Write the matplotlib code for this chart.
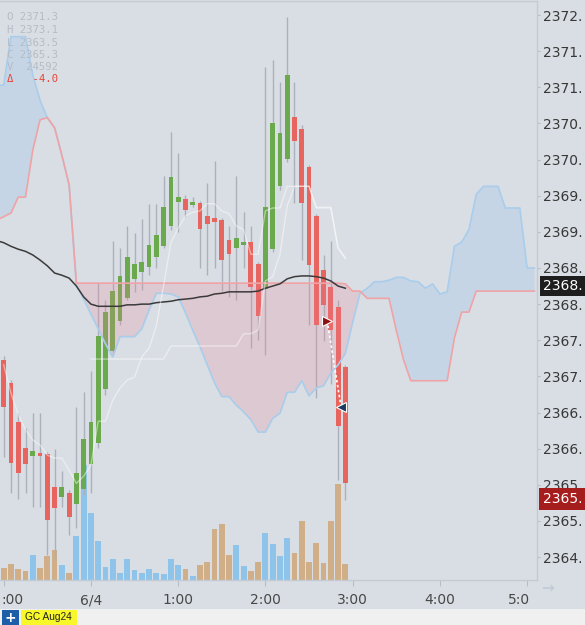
import numpy as np
import matplotlib
matplotlib.use("Agg")
import matplotlib.pyplot as plt
from matplotlib.patches import Rectangle
from matplotlib.transforms import blended_transform_factory, ScaledTranslation

# ---------------- data (5-minute bars, GC Aug24) ----------------
opens = [2367.23, 2366.91, 2366.37, 2366.01, 2365.90, 2365.94, 2365.93, 2365.47, 2365.33, 2365.39,
         2365.23, 2365.44, 2365.79, 2366.08, 2366.83, 2367.35, 2367.77, 2368.08, 2368.35, 2368.44,
         2368.51, 2368.65, 2368.80, 2369.08, 2369.41, 2369.45, 2369.37, 2369.40, 2369.22, 2369.19,
         2369.16, 2368.89, 2368.78, 2368.82, 2368.86, 2368.55, 2368.21, 2368.76, 2369.63, 2370.01,
         2370.59, 2370.42, 2369.90, 2369.22, 2368.47, 2368.24, 2367.96, 2367.13]
highs = [2367.28, 2366.95, 2366.49, 2366.29, 2366.49, 2366.49, 2365.95, 2365.99, 2365.69, 2365.43,
         2366.58, 2366.78, 2367.07, 2368.29, 2368.06, 2368.87, 2368.78, 2369.08, 2368.98, 2369.18,
         2369.39, 2369.39, 2369.77, 2370.38, 2370.09, 2369.51, 2369.48, 2369.43, 2369.68, 2369.98,
         2369.19, 2369.08, 2369.77, 2369.27, 2369.08, 2368.58, 2371.28, 2371.38, 2371.07, 2371.97,
         2371.07, 2370.48, 2369.92, 2369.25, 2368.68, 2368.87, 2368.06, 2367.16]
lows = [2365.88, 2365.39, 2365.30, 2365.39, 2365.19, 2365.19, 2364.53, 2364.46, 2365.19, 2364.80,
        2364.90, 2365.36, 2365.39, 2366.01, 2366.74, 2367.30, 2367.71, 2368.06, 2368.17, 2368.20,
        2368.40, 2368.50, 2368.78, 2369.03, 2369.00, 2369.21, 2369.34, 2368.50, 2368.40, 2368.50,
        2368.18, 2368.10, 2368.06, 2368.50, 2367.39, 2367.50, 2367.30, 2368.72, 2369.58, 2369.97,
        2369.40, 2368.61, 2367.71, 2366.70, 2367.49, 2366.89, 2365.57, 2365.29]
closes = [2366.58, 2365.80, 2365.66, 2365.79, 2365.97, 2365.90, 2365.01, 2365.18, 2365.47, 2365.05,
          2365.66, 2366.13, 2366.37, 2367.56, 2367.89, 2368.18, 2368.39, 2368.65, 2368.55, 2368.58,
          2368.82, 2368.96, 2369.34, 2369.76, 2369.48, 2369.30, 2369.41, 2369.04, 2369.11, 2369.14,
          2368.61, 2368.69, 2368.91, 2368.86, 2368.24, 2367.84, 2369.34, 2370.51, 2370.37, 2371.17,
          2370.26, 2369.40, 2368.54, 2367.71, 2367.99, 2367.64, 2366.31, 2365.52]
volumes = [246, 320, 220, 180, 500, 240, 480, 600, 300, 140,
           880, 2300, 1340, 780, 260, 420, 140, 420, 200, 140,
           220, 140, 120, 420, 300, 220, 80, 300, 360, 1020,
           1120, 500, 700, 280, 180, 360, 940, 720, 480, 840,
           540, 1180, 360, 740, 340, 1180, 1920, 320]

# moving average, starting one bar before the first candle
ma_start = -1
ma_line = [2368.88, 2368.85, 2368.80, 2368.76, 2368.73, 2368.68, 2368.61, 2368.53, 2368.43, 2368.40,
           2368.36, 2368.25, 2368.10, 2368.00, 2367.97, 2367.97, 2367.97, 2367.97, 2367.99, 2367.99,
           2368.00, 2368.00, 2368.02, 2368.03, 2368.04, 2368.06, 2368.07, 2368.08, 2368.10, 2368.11,
           2368.14, 2368.15, 2368.17, 2368.17, 2368.17, 2368.17, 2368.18, 2368.22, 2368.25, 2368.28,
           2368.35, 2368.38, 2368.39, 2368.39, 2368.38, 2368.36, 2368.32, 2368.25, 2368.22]

tenkan = [2367.16, 2366.77, 2366.47, 2366.26, 2366.12, 2366.05, 2365.91, 2365.87, 2365.87, 2365.70,
          2365.52, 2365.62, 2365.77, 2366.38, 2366.38, 2366.67, 2366.84, 2366.95, 2366.99, 2367.27,
          2367.39, 2367.70, 2368.26, 2368.85, 2369.05, 2369.22, 2369.27, 2369.29, 2369.39, 2369.39,
          2369.29, 2369.25, 2369.08, 2369.03, 2368.69, 2368.69, 2369.29, 2369.33, 2369.33, 2369.63,
          2369.63, 2369.63, 2369.63, 2369.33, 2369.33, 2369.33, 2368.78, 2368.64]
kijun = [None, None, None, None, None, None, None, None, None, None,
         None, None, 2367.24, 2367.24, 2367.24, 2367.24, 2367.24, 2367.24, 2367.24, 2367.24,
         2367.24, 2367.24, 2367.24, 2367.42, 2367.42, 2367.42, 2367.42, 2367.42, 2367.42, 2367.42,
         2367.42, 2367.42, 2367.42, 2367.59, 2367.59, 2367.64, 2368.32, 2368.38, 2368.69, 2369.36,
         2369.63, 2369.63, 2369.63, 2369.34, 2369.34, 2369.34, 2368.77, 2368.63]

# Ichimoku cloud, projected forward; first value is one bar before the first candle
cloud_start = -1
span_a = [2369.16, 2369.21, 2369.26, 2369.48, 2369.48, 2370.13, 2370.55, 2370.58, 2370.44, 2370.06,
          2369.65, 2368.29, 2368.29, 2368.29, 2368.29, 2368.29, 2368.29, 2368.29, 2368.29, 2368.29,
          2368.29, 2368.29, 2368.29, 2368.29, 2368.29, 2368.29, 2368.29, 2368.29, 2368.29, 2368.29,
          2368.29, 2368.29, 2368.29, 2368.29, 2368.29, 2368.29, 2368.29, 2368.29, 2368.29, 2368.29,
          2368.29, 2368.29, 2368.29, 2368.29, 2368.29, 2368.29, 2368.29, 2368.29, 2368.28, 2368.18,
          2368.18, 2368.08, 2368.08, 2368.08, 2368.08, 2367.64, 2367.23, 2366.94, 2366.94, 2366.94,
          2366.94, 2366.94, 2366.94, 2367.53, 2367.89, 2367.89, 2368.18, 2368.18, 2368.18, 2368.18,
          2368.18, 2368.18, 2368.18, 2368.18, 2368.18]
span_b = [2371.03, 2371.03, 2371.70, 2371.70, 2371.70, 2371.17, 2370.82, 2370.58, 2370.44, 2370.06,
          2369.65, 2368.26, 2368.07, 2367.86, 2367.66, 2367.45, 2367.27, 2367.55, 2367.55, 2367.55,
          2367.66, 2367.92, 2368.15, 2368.15, 2368.14, 2368.10, 2367.88, 2367.64, 2367.41, 2367.16,
          2366.91, 2366.72, 2366.72, 2366.60, 2366.51, 2366.40, 2366.23, 2366.23, 2366.42, 2366.49,
          2366.78, 2366.78, 2366.94, 2366.73, 2366.84, 2366.87, 2367.05, 2367.16, 2367.32, 2367.75,
          2368.15, 2368.22, 2368.31, 2368.31, 2368.33, 2368.37, 2368.37, 2368.32, 2368.31, 2368.22,
          2368.28, 2368.14, 2368.17, 2368.80, 2368.86, 2369.03, 2369.52, 2369.63, 2369.63, 2369.63,
          2369.33, 2369.33, 2369.33, 2368.50, 2368.50]

# trade markers (bar position, price)
entry_bar, entry_price = 44.5, 2367.77
exit_bar, exit_price = 46.4, 2366.58

# time axis: tick positions (bar index) and the part of each label that is visible
time_ticks = [0, 12, 24, 36, 48, 60, 72]
time_labels = [":00", "6/4", "1:00", "2:00", "3:00", "4:00", "5:0"]
# price axis: ticks and their (truncated) labels as displayed
price_ticks = [2364.5, 2365.0, 2365.5, 2366.0, 2366.5, 2367.0, 2367.5, 2368.0,
               2368.5, 2369.0, 2369.5, 2370.0, 2370.5, 2371.0, 2371.5, 2372.0]
price_labels = ["2364.", "2365.", "2365.", "2366.", "2366.", "2367.", "2367.", "2368.",
                "2368.", "2369.", "2369.", "2370.", "2370.", "2371.", "2371.", "2372."]
marker_price_black = 2368.25
marker_label_black = "2368."
last_price = 2365.3
last_label = "2365."

info_lines = ["O 2371.3", "H 2373.1", "L 2363.5", "C 2365.3", "V  24592"]
delta_line = "\u0394   -4.0"
symbol_label = "GC Aug24"

# ---------------- styling ----------------
BG = "#d9dee4"
UP = "#6aaa4c"
DN = "#e8645f"
WICK = "#aab1ba"
VOL_UP = "#8ec3ea"
VOL_DN = "#cfae88"
FS = 10

W, H = 585, 625
fig = plt.figure(figsize=(W / 100, H / 100), dpi=100)
fig.patch.set_facecolor(BG)

ax_left, ax_right, ax_top, ax_bottom = 0, 537, 1, 580
pos = [ax_left / W, 1 - ax_bottom / H, (ax_right - ax_left) / W, (ax_bottom - ax_top) / H]

x_lo, x_hi = -0.509, 73.36
y_lo, y_hi = 2364.183, 2372.194

# volume axes (behind)
ax_vol = fig.add_axes(pos)
ax_vol.set_facecolor(BG)
ax_vol.set_zorder(1)
idx = np.arange(len(opens))
o = np.array(opens); h = np.array(highs); l = np.array(lows); c = np.array(closes)
up = c >= o
ax_vol.bar(idx, volumes, width=0.8, color=np.where(up, VOL_UP, VOL_DN), linewidth=0)
ax_vol.set_xlim(x_lo, x_hi)
ax_vol.set_ylim(0, 11580)
ax_vol.set_xticks([]); ax_vol.set_yticks([])
for s in ax_vol.spines.values():
    s.set_visible(False)

# main price axes
ax = fig.add_axes(pos)
ax.set_zorder(2)
ax.set_facecolor("none")
ax.set_xlim(x_lo, x_hi)
ax.set_ylim(y_lo, y_hi)

# candles
ax.vlines(idx, l, h, color=WICK, lw=1.0, zorder=1)
body = np.maximum(np.abs(c - o), 0.025)
ax.bar(idx, body, bottom=np.minimum(o, c), width=0.66,
       color=np.where(up, UP, DN), linewidth=0, zorder=2)

# cloud
xc = np.arange(cloud_start, cloud_start + len(span_a))
a = np.array(span_a); b = np.array(span_b)
ax.fill_between(xc, a, b, where=a >= b, interpolate=True,
                color=(238 / 255, 130 / 255, 150 / 255), alpha=0.22, lw=0, zorder=3)
ax.fill_between(xc, a, b, where=b > a, interpolate=True,
                color=(140 / 255, 190 / 255, 235 / 255), alpha=0.25, lw=0, zorder=3)
ax.plot(xc, b, color="#a9cdeb", lw=1.2, zorder=4)
ax.plot(xc, a, color="#efa3a6", lw=1.2, zorder=4)

# moving average
xm = np.arange(ma_start, ma_start + len(ma_line))
ax.plot(xm, ma_line, color="#3a3a3a", lw=1.1, zorder=5)

# tenkan / kijun
ax.plot(idx, tenkan, color="white", alpha=0.45, lw=1.0, zorder=5)
kj = np.array([np.nan if v is None else v for v in kijun], dtype=float)
ax.plot(idx, kj, color="white", alpha=0.45, lw=1.0, zorder=5)

# trade markers
ax.plot([entry_bar, exit_bar], [entry_price, exit_price], color="white", ls=(0, (1.5, 1.5)), lw=1.2, zorder=6)
ax.plot([entry_bar], [entry_price], marker=">", ms=7, color="#8c1010", mec="white", mew=0.8, zorder=7)
ax.plot([exit_bar], [exit_price], marker="<", ms=7, color="#1b3a5c", mec="white", mew=0.8, zorder=7)

# axes styling
ax.spines["left"].set_visible(False)
for side in ["top", "right", "bottom"]:
    ax.spines[side].set_color("#c2cad3")
    ax.spines[side].set_linewidth(1.0)

ax.yaxis.tick_right()
ax.set_yticks(price_ticks)
ax.set_yticklabels(price_labels)
ax.tick_params(axis="y", length=2, width=0.8, color="#b5bdc7", labelsize=FS,
               labelcolor="#383838", pad=2.5)
ax.set_xticks(time_ticks)
ax.tick_params(axis="x", length=4.3, width=0.8, color="#b5bdc7", labelbottom=False)

# x labels (the first and last are partly hidden in the original)
xtrans = blended_transform_factory(ax.transData, fig.transFigure)
label_y = 1 - 600 / H
for i, (t, lab) in enumerate(zip(time_ticks, time_labels)):
    if i == 0:
        fig.text(1 / W, label_y, lab, ha="left", va="center", fontsize=FS, color="#484848")
    elif i == len(time_ticks) - 1:
        tr = xtrans + ScaledTranslation(-19 / 100, 0, fig.dpi_scale_trans)
        fig.text(t, label_y, lab, transform=tr, ha="left", va="center", fontsize=FS, color="#484848")
    else:
        fig.text(t, label_y, lab, transform=xtrans, ha="center", va="center", fontsize=FS, color="#484848")

# highlighted price labels on the right axis
ytrans = blended_transform_factory(ax.transAxes, ax.transData) + ScaledTranslation(6 / 100, 0, fig.dpi_scale_trans)
ax.text(1.0, marker_price_black, marker_label_black, transform=ytrans, ha="left", va="center",
        fontsize=FS, color="white", clip_on=False, zorder=10,
        bbox=dict(boxstyle="square,pad=0.22", fc="#1e1e1e", ec="none"))
ax.text(1.0, last_price, last_label, transform=ytrans, ha="left", va="center",
        fontsize=FS, color="white", clip_on=False, zorder=10,
        bbox=dict(boxstyle="square,pad=0.3", fc="#a61d1d", ec="none"))

# info box
info_y = [16.5, 30, 42.5, 55, 67]
for yy, s in zip(info_y, info_lines):
    fig.text(7 / W, 1 - yy / H, s, family="DejaVu Sans Mono", fontsize=7.7,
             color="#b4bcc6", ha="left", va="center")
fig.text(7 / W, 1 - 79 / H, delta_line, family="DejaVu Sans Mono", fontsize=7.7,
         color="#e8443a", ha="left", va="center")

# scroll arrow
fig.text(548 / W, 1 - 588 / H, "\u2192", fontsize=11, color="#c3ccd7", ha="center", va="center",
         fontweight="bold")

# bottom strip
fig.add_artist(Rectangle((0, 0), 1, 16 / H, transform=fig.transFigure, fc="#f0f0f0", ec="none"))
fig.add_artist(Rectangle((2 / W, 0), 17 / W, 15 / H, transform=fig.transFigure, fc="#1d5ea8", ec="none"))
fig.text(10.5 / W, 7.5 / H, "+", color="white", fontsize=10, fontweight="bold", ha="center", va="center")
fig.add_artist(Rectangle((20.5 / W, 0), 56 / W, 15 / H, transform=fig.transFigure, fc="#f7f72a", ec="none"))
fig.text(48.5 / W, 7.5 / H, symbol_label, color="#222222", fontsize=7.3, family="Liberation Sans",
         ha="center", va="center")

fig.savefig("out.png", dpi=100, facecolor=BG)
